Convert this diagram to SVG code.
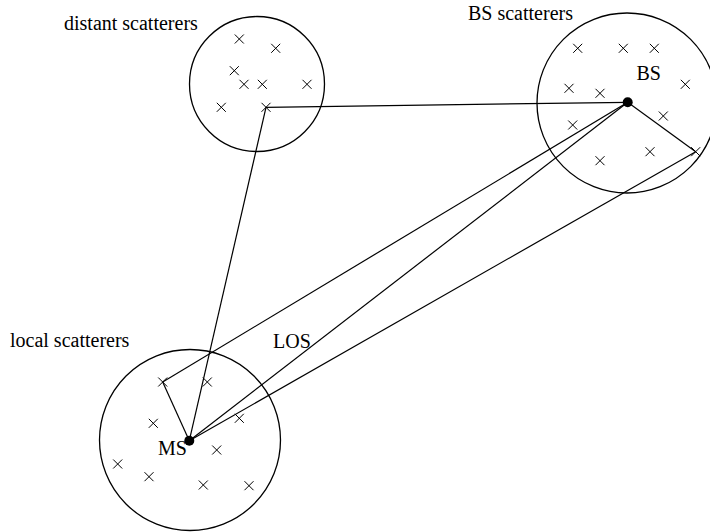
<svg xmlns="http://www.w3.org/2000/svg" xmlns:xlink="http://www.w3.org/1999/xlink" width="710" height="532" viewBox="0 0 710 532">
<style>
.c{fill:none;stroke:#000;stroke-width:1.3}
.x{fill:none;stroke:#000;stroke-width:1}
.l{fill:none;stroke:#000;stroke-width:1.2}
.t{font-family:"Liberation Serif","Times New Roman",serif;font-size:20px;fill:#000}
.d{fill:#000}
</style>
<defs>
<path id="x" class="x" d="M-4.5,-4.5L4.5,4.5M-4.5,4.5L4.5,-4.5"/>
</defs>
<rect width="710" height="532" fill="#fff"/>
<g id="connectors">
<line class="l" x1="266" y1="107.3" x2="627.7" y2="102.3"/>
<line class="l" x1="266" y1="107.3" x2="189.3" y2="440.7"/>
<line class="l" x1="627.7" y1="102.3" x2="695.7" y2="151.7"/>
<line class="l" x1="695.7" y1="151.7" x2="189.3" y2="440.7"/>
<line class="l" x1="627.7" y1="102.3" x2="189.3" y2="440.7"/>
<line class="l" x1="627.7" y1="102.3" x2="162.7" y2="382"/>
<line class="l" x1="162.7" y1="382" x2="189.3" y2="440.7"/>
</g>
<g id="distant">
<circle class="c" cx="257" cy="84" r="67.5"/>
<use xlink:href="#x" x="239.3" y="39"/>
<use xlink:href="#x" x="275.7" y="48.3"/>
<use xlink:href="#x" x="234.3" y="70.7"/>
<use xlink:href="#x" x="244" y="84.3"/>
<use xlink:href="#x" x="262.3" y="84.3"/>
<use xlink:href="#x" x="307" y="84.3"/>
<use xlink:href="#x" x="221.3" y="107.3"/>
<use xlink:href="#x" x="266" y="107.3"/>
<text class="t" x="64" y="30">distant scatterers</text>
</g>
<g id="bs">
<circle class="c" cx="627" cy="103" r="90"/>
<use xlink:href="#x" x="577.7" y="48.3"/>
<use xlink:href="#x" x="623.3" y="48.3"/>
<use xlink:href="#x" x="654.3" y="48.3"/>
<use xlink:href="#x" x="685.3" y="84.3"/>
<use xlink:href="#x" x="569" y="88.3"/>
<use xlink:href="#x" x="600" y="93.3"/>
<use xlink:href="#x" x="663.3" y="116"/>
<use xlink:href="#x" x="572.7" y="125"/>
<use xlink:href="#x" x="650" y="151.7"/>
<use xlink:href="#x" x="695.7" y="151.7"/>
<use xlink:href="#x" x="600" y="160.7"/>
<circle class="d" cx="627.7" cy="102.3" r="5"/>
<text class="t" x="636.5" y="80">BS</text>
<text class="t" x="468" y="20">BS scatterers</text>
</g>
<g id="ms">
<circle class="c" cx="190" cy="440" r="90.5"/>
<use xlink:href="#x" x="162.7" y="382"/>
<use xlink:href="#x" x="207.3" y="382"/>
<use xlink:href="#x" x="153.3" y="423.3"/>
<use xlink:href="#x" x="239.3" y="418.3"/>
<use xlink:href="#x" x="216.7" y="450"/>
<use xlink:href="#x" x="117.7" y="464"/>
<use xlink:href="#x" x="149" y="476.7"/>
<use xlink:href="#x" x="203.3" y="485"/>
<use xlink:href="#x" x="249" y="485.7"/>
<circle class="d" cx="189.3" cy="440.7" r="5"/>
<text class="t" x="158" y="455">MS</text>
<text class="t" x="10" y="347">local scatterers</text>
</g>
<g id="los-label">
<text class="t" x="273" y="348">LOS</text>
</g>
</svg>
